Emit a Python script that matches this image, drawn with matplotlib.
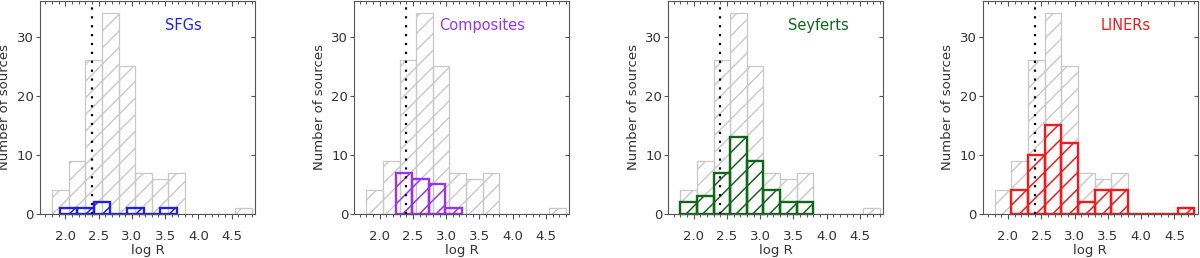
import matplotlib
matplotlib.use('Agg')
import matplotlib.pyplot as plt
import numpy as np
from matplotlib.ticker import MultipleLocator

# ---- data ----
bin_width = 0.25
all_start = 1.8
all_counts = [4, 9, 26, 34, 25, 7, 6, 7, 0, 0, 0, 1]

class_names = ['SFGs', 'Composites', 'Seyferts', 'LINERs']
sfg_start = 1.925
sfg_counts = [1, 1, 2, 0, 1, 0, 1]
comp_start = 2.24
comp_counts = [7, 6, 5, 1]
sey_start = 1.8
sey_counts = [2, 3, 7, 13, 9, 4, 2, 2]
lin_start = 2.05
lin_counts = [4, 10, 15, 12, 2, 4, 4, 0, 0, 0, 1]
threshold = 2.4

x_ticks = [2.0, 2.5, 3.0, 3.5, 4.0, 4.5]
y_ticks = [0, 10, 20, 30]

# ---- style ----
colors = ['#2222dd', '#9933ee', '#11661a', '#ee1c1c']
starts = [sfg_start, comp_start, sey_start, lin_start]
counts = [sfg_counts, comp_counts, sey_counts, lin_counts]
label_x = [0.58, 0.395, 0.555, 0.55]

plt.rcParams['font.family'] = ['DejaVu Sans']
plt.rcParams['hatch.linewidth'] = 1.0

W, H = 1200, 258
fig = plt.figure(figsize=(W / 100, H / 100), dpi=100)
lefts = [40, 354.3, 668.3, 982.7]
ax_w = 215
ax_bottom = 44
ax_h = 213
axis_col = '#555555'
text_col = '#333333'

for i in range(4):
    ax = fig.add_axes([lefts[i] / W, ax_bottom / H, ax_w / W, ax_h / H])
    # background histogram
    edges_all = all_start + bin_width * np.arange(len(all_counts))
    ax.bar(edges_all, all_counts, width=bin_width, align='edge', fill=False,
           edgecolor='#c8c8c8', hatch='//', linewidth=0.9, zorder=1)
    # class histogram
    e = starts[i] + bin_width * np.arange(len(counts[i]))
    ax.bar(e, counts[i], width=bin_width, align='edge', fill=False,
           edgecolor=colors[i], hatch='//', linewidth=1.7, zorder=2, clip_on=False)
    ax.axvline(threshold, color='black', linestyle=(0, (1, 3)), linewidth=1.6, zorder=3)

    ax.set_xlim(1.62, 4.85)
    ax.set_ylim(0, 36)
    ax.set_xticks(x_ticks)
    ax.set_xticklabels(['%.1f' % t for t in x_ticks])
    ax.xaxis.set_minor_locator(MultipleLocator(0.1))
    ax.set_yticks(y_ticks)
    ax.tick_params(axis='x', which='major', direction='out', length=3.5, width=0.8,
                   pad=8, labelsize=9.5, colors=axis_col, labelcolor=text_col, top=False)
    ax.tick_params(axis='x', which='minor', direction='out', length=1.8, width=0.7,
                   colors=axis_col, top=False)
    ax.tick_params(axis='y', which='major', direction='out', length=3, width=0.8,
                   pad=1.5, labelsize=9.5, colors=axis_col, labelcolor=text_col, right=False)
    # top / right ticks pointing inward
    sx = ax.secondary_xaxis('top')
    sx.set_xticks(x_ticks)
    sx.xaxis.set_minor_locator(MultipleLocator(0.1))
    sx.tick_params(axis='x', which='major', direction='in', length=3.5, width=0.8,
                   colors=axis_col, labeltop=False)
    sx.tick_params(axis='x', which='minor', direction='in', length=1.8, width=0.7,
                   colors=axis_col)
    sx.spines['top'].set_visible(False)
    sy = ax.secondary_yaxis('right')
    sy.set_yticks(y_ticks)
    sy.tick_params(axis='y', direction='in', length=3, width=0.8, colors=axis_col,
                   labelright=False)
    sy.spines['right'].set_visible(False)
    for s in ax.spines.values():
        s.set_color(axis_col)
        s.set_linewidth(0.8)

    ax.set_xlabel('log R', fontsize=9.5, color=text_col, labelpad=1)
    ax.set_ylabel('Number of sources', fontsize=9.5, color=text_col, labelpad=4)
    ax.text(label_x[i], 0.885, class_names[i], transform=ax.transAxes,
            color=colors[i], fontsize=10.5, ha='left', va='center')

fig.savefig('out.png', dpi=100)
